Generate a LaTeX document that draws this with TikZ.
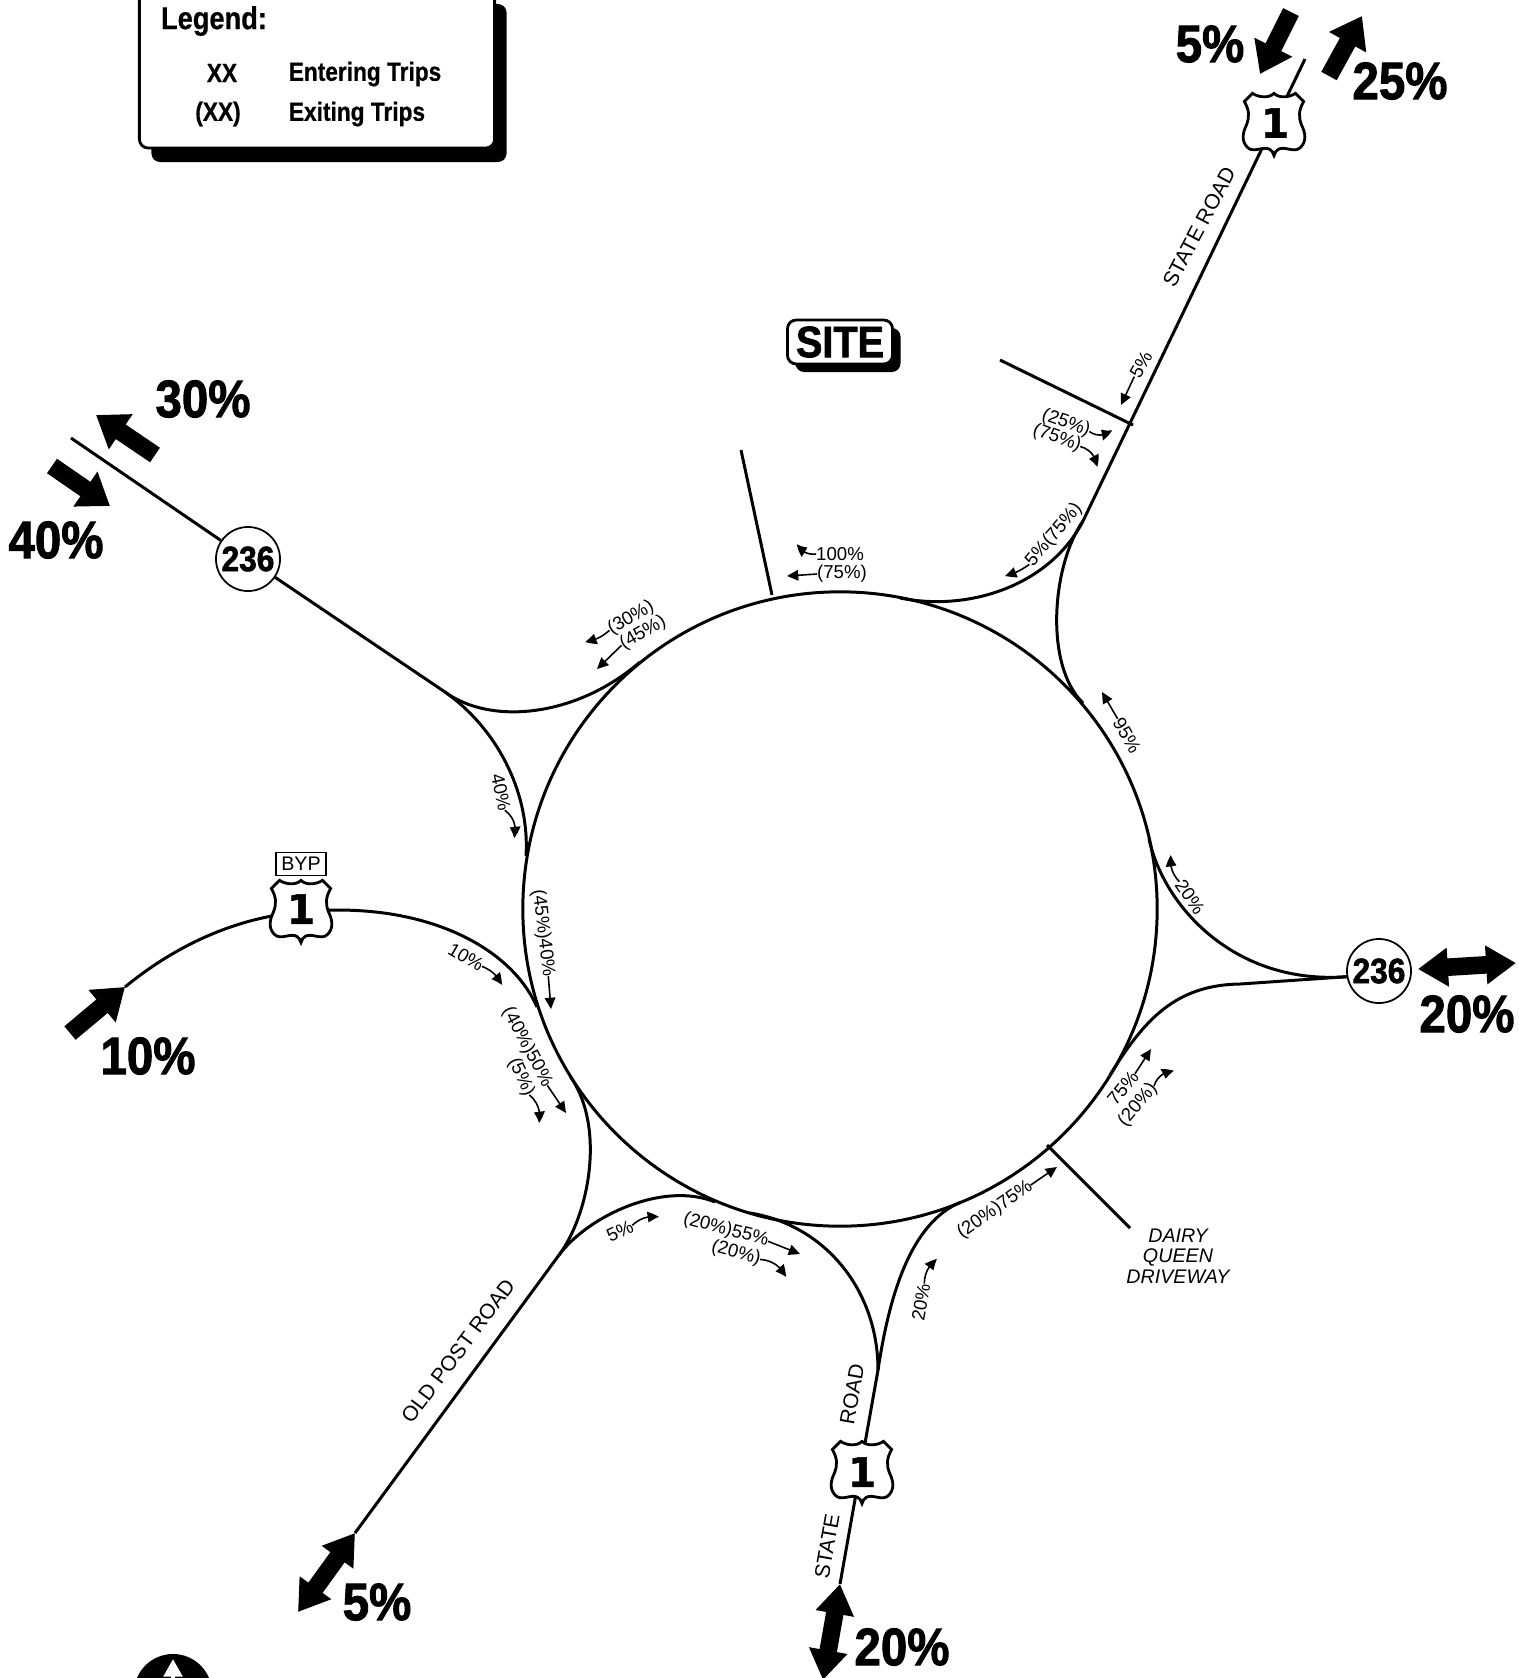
\documentclass[tikz,border=0pt]{standalone}
\usepackage{fontspec}
\setmainfont{Liberation Sans}
\newfontfamily\heavyfont[FakeStretch=0.9,BoldFeatures={FakeBold=1.7}]{Liberation Sans}
\newfontfamily\legendfont[FakeStretch=0.86,BoldFeatures={FakeBold=0.6}]{Liberation Sans}
\newfontfamily\shieldfont[BoldFeatures={FakeBold=1.2}]{DejaVu Sans}
\usetikzlibrary{arrows.meta,bending,shadows}
\tikzstyle{ring}=[circle,draw,line width=0.85pt,minimum size=6.34cm,inner sep=0pt,outer sep=0pt]
\tikzstyle{roadline}=[line width=0.85pt]
\tikzstyle{route}=[circle,draw,fill=white,line width=0.5pt,minimum size=0.64cm,inner sep=0pt,font=\heavyfont\bfseries\fontsize{10}{10}\selectfont]
\tikzstyle{shieldnum}=[inner sep=0pt,font=\shieldfont\bfseries\fontsize{11.5}{12}\selectfont]
\tikzstyle{bigpct}=[inner sep=0pt,font=\heavyfont\bfseries\fontsize{15}{15}\selectfont]
\tikzstyle{bigarrow}=[line width=5pt,-{Triangle[length=8.5pt,width=11.5pt]}]
\tikzstyle{bigboth}=[line width=5pt,{Triangle[length=8.5pt,width=10.5pt]}-{Triangle[length=8.5pt,width=10.5pt]}]
\tikzstyle{pct}=[inner sep=0pt,outer sep=0pt,font=\fontsize{5.3}{6}\selectfont]
\tikzstyle{pctarrow}=[line width=0.45pt,-{Triangle[length=3.2pt,width=3pt,bend]}]
\tikzstyle{roadname}=[inner sep=0pt,font=\fontsize{6}{7}\selectfont]
\tikzstyle{legendtxt}=[inner sep=0pt,font=\legendfont\bfseries\fontsize{7.5}{9}\selectfont]
\tikzstyle{shadowbox}=[draw,fill=white,rounded corners=2.5pt,line width=0.8pt,inner sep=0pt]
\tikzset{shield/.pic={
\draw[fill=white,line width=0.8pt,scale=1.02] (0,-31) .. controls (5,-26) and (15,-27) .. (21,-31) -- (29,-23) .. controls (24,-14) and (24,-8) .. (27,0) .. controls (31,8) and (32,16) .. (26,22) .. controls (20,28) and (10,20) .. (4,24) .. controls (2,25) and (1,27) .. (0,30) .. controls (-1,27) and (-2,25) .. (-4,24) .. controls (-10,20) and (-20,28) .. (-26,22) .. controls (-32,16) and (-31,8) .. (-27,0) .. controls (-24,-8) and (-24,-14) .. (-29,-23) -- (-21,-31) .. controls (-15,-27) and (-5,-26) .. (0,-31) -- cycle;
}}
\begin{document}
\begin{tikzpicture}[x=0.01cm,y=-0.01cm]
\clip (0,0) rectangle (1519,1678);
\node[ring] (c) at (840,909) {};
\node[route] (r1) at (248,559) {236};
\node[route] (r2) at (1379,971) {236};
\coordinate (s1) at (1274,125);
\coordinate (s2) at (862,1473);
\coordinate (s3) at (301,912);
\coordinate (x1) at (1305,59);
\coordinate (j1) at (1083,521);
\coordinate (d1) at (1133,425);
\coordinate (d2) at (1000,360);
\coordinate (d3) at (741,450);
\coordinate (d4) at (772,595);
\coordinate (d5) at (1047,1145);
\coordinate (d6) at (1130,1228);
\coordinate (m1) at (900,598);
\coordinate (m2) at (1083,703);
\coordinate (m3) at (1149,839);
\coordinate (m4) at (1110,1075);
\coordinate (m5) at (961,1202);
\coordinate (m6) at (750,1213);
\coordinate (m7) at (715,1202);
\coordinate (m8) at (570,1076);
\coordinate (m9) at (537,1007);
\coordinate (m10) at (526,856);
\coordinate (m11) at (640,662);
\coordinate (j2) at (1240,984);
\coordinate (j3) at (878,1370);
\coordinate (x3) at (840,1584);
\coordinate (j4) at (559,1255);
\coordinate (x4) at (355,1533);
\coordinate (x5) at (125,987);
\coordinate (j6) at (445,692);
\coordinate (x6) at (71,438);
% roads
\draw[roadline] (x1) -- (j1);
\draw[roadline] (j1) .. controls (1050,585) and (970,612) .. (m1);
\draw[roadline] (j1) .. controls (1052,565) and (1044,665) .. (m2);
\draw[roadline] (d1) -- (d2);
\draw[roadline] (d3) -- (d4);
\draw[roadline] (d5) -- (d6);
\draw[roadline] (m3) .. controls (1164,907) and (1235,985) .. (r2.190);
\draw[roadline] (m4) .. controls (1144,1020) and (1175,985) .. (j2) -- (r2.190);
\draw[roadline] (x3) -- (j3);
\draw[roadline] (j3) .. controls (889,1297) and (910,1223) .. (m5);
\draw[roadline] (j3) .. controls (878,1290) and (825,1225) .. (m6);
\draw[roadline] (x4) -- (j4);
\draw[roadline] (j4) .. controls (589,1215) and (664,1181) .. (m7);
\draw[roadline] (j4) .. controls (589,1215) and (606,1127) .. (m8);
\draw[roadline] (x5) .. controls (170,950) and (230,918) .. (s3);
\draw[roadline] (s3) .. controls (420,900) and (510,945) .. (m9);
\draw[roadline] (x6) -- (r1);
\draw[roadline] (r1) -- (j6);
\draw[roadline] (j6) .. controls (495,727) and (530,790) .. (m10);
\draw[roadline] (j6) .. controls (490,725) and (575,718) .. (m11);
% shields
\pic at (s1) {shield};
\pic at (s2) {shield};
\pic at (s3) {shield};
\node[shieldnum] (n1) at (1275,123) {1};
\node[shieldnum] (n2) at (862,1472) {1};
\node[shieldnum] (n3) at (301,909) {1};
\node[draw,line width=0.5pt,minimum width=0.5cm,minimum height=0.23cm,inner sep=0pt,font=\fontsize{5.6}{6}\selectfont] (byp) at (301,864) {BYP};
% big arrows
\coordinate (a1) at (1291,12);
\coordinate (a2) at (1260,74);
\coordinate (a3) at (1329,76);
\coordinate (a4) at (1362,16);
\coordinate (a5) at (155,455);
\coordinate (a6) at (96,415);
\coordinate (a7) at (52,466);
\coordinate (a8) at (110,506);
\coordinate (a9) at (1418,969);
\coordinate (a10) at (1516,963);
\coordinate (a11) at (840,1584);
\coordinate (a12) at (823,1680);
\coordinate (a13) at (355,1533);
\coordinate (a14) at (298,1612);
\coordinate (a15) at (70,1033);
\coordinate (a16) at (125,987);
\draw[bigarrow] (a1) -- (a2);
\draw[bigarrow] (a3) -- (a4);
\draw[bigarrow] (a5) -- (a6);
\draw[bigarrow] (a7) -- (a8);
\draw[bigboth] (a9) -- (a10);
\draw[bigboth] (a11) -- (a12);
\draw[bigboth] (a13) -- (a14);
\draw[bigarrow] (a15) -- (a16);
\node[bigpct] (p1) at (1210,44) {5\%};
\node[bigpct] (p2) at (1400,81) {25\%};
\node[bigpct] (p3) at (203,399) {30\%};
\node[bigpct] (p4) at (56,540) {40\%};
\node[bigpct] (p5) at (1467,1014) {20\%};
\node[bigpct] (p6) at (148,1056) {10\%};
\node[bigpct] (p7) at (377,1602) {5\%};
\node[bigpct] (p8) at (902,1647) {20\%};
% road names
\node[roadname,rotate=62] (t1) at (1199,227) {STATE ROAD};
\node[roadname,rotate=53] (t2) at (458,1351) {OLD POST ROAD};
\node[roadname,rotate=80] (t3) at (852,1394) {ROAD};
\node[roadname,rotate=80] (t4) at (827,1546) {STATE};
\node[roadname,align=center,font=\itshape\fontsize{5.6}{5.8}\selectfont] (t5) at (1178,1256) {DAIRY\\QUEEN\\DRIVEWAY};
% percentages
\node[pct,rotate=60] (l1) at (1141,365) {5\%};
\node[pct,rotate=-20] (l2) at (1066,423) {(25\%)};
\node[pct,rotate=-20] (l3) at (1057,438) {(75\%)};
\node[pct,rotate=50] (l4) at (1054,535) {5\%(75\%)};
\node[pct] (l5) at (840,554) {100\%};
\node[pct] (l6) at (842,574) {(75\%)};
\node[pct,rotate=30] (l7) at (631,618) {(30\%)};
\node[pct,rotate=30] (l8) at (643,633) {(45\%)};
\node[pct,rotate=-78] (l9) at (501,792) {40\%};
\node[pct,rotate=-83] (l10) at (543,933) {(45\%)40\%};
\node[pct,rotate=-30] (l11) at (466,957) {10\%};
\node[pct,rotate=-62] (l12) at (527,1047) {(40\%)50\%};
\node[pct,rotate=-65] (l13) at (521,1077) {(5\%)};
\node[pct,rotate=25] (l14) at (620,1231) {5\%};
\node[pct,rotate=-15] (l15) at (726,1230) {(20\%)55\%};
\node[pct,rotate=-15] (l16) at (736,1253) {(20\%)};
\node[pct,rotate=80] (l17) at (921,1302) {20\%};
\node[pct,rotate=35] (l18) at (995,1210) {(20\%)75\%};
\node[pct,rotate=50] (l19) at (1123,1088) {75\%};
\node[pct,rotate=50] (l20) at (1138,1105) {(20\%)};
\node[pct,rotate=-60] (l21) at (1127,735) {95\%};
\node[pct,rotate=-55] (l22) at (1190,897) {20\%};
\coordinate (k1) at (1121,405);
\coordinate (k2) at (1112,430);
\coordinate (k3) at (1097,467);
\coordinate (k4) at (1005,576);
\coordinate (k5) at (797,544);
\coordinate (k6) at (787,576);
\coordinate (k7) at (585,642);
\coordinate (k8) at (597,669);
\coordinate (k9) at (514,838);
\coordinate (k10) at (551,1009);
\coordinate (k11) at (502,985);
\coordinate (k12) at (566,1113);
\coordinate (k13) at (539,1123);
\coordinate (k14) at (659,1217);
\coordinate (k15) at (800,1254);
\coordinate (k16) at (786,1277);
\coordinate (k17) at (937,1259);
\coordinate (k18) at (1057,1167);
\coordinate (k19) at (1151,1049);
\coordinate (k20) at (1174,1071);
\coordinate (k21) at (1102,692);
\coordinate (k22) at (1171,855);
\draw[pctarrow] (l1.west) -- (k1);
\draw[pctarrow] (l2.east) to[bend right=40] (k2);
\draw[pctarrow] (l3.east) to[bend left=35] (k3);
\draw[pctarrow] (l4.west) to[bend left=10] (k4);
\draw[pctarrow] (l5.west) to[bend left=35] (k5);
\draw[pctarrow] (l6.west) -- (k6);
\draw[pctarrow] (l7.west) to[bend left=15] (k7);
\draw[pctarrow] (l8.west) -- (k8);
\draw[pctarrow] (l9.east) to[bend left=35] (k9);
\draw[pctarrow] (l10.east) -- (k10);
\draw[pctarrow] (l11.east) to[bend left=20] (k11);
\draw[pctarrow] (l12.east) -- (k12);
\draw[pctarrow] (l13.east) to[bend left=30] (k13);
\draw[pctarrow] (l14.east) to[bend left=25] (k14);
\draw[pctarrow] (l15.east) -- (k15);
\draw[pctarrow] (l16.east) to[bend left=30] (k16);
\draw[pctarrow] (l17.east) to[bend left=25] (k17);
\draw[pctarrow] (l18.east) -- (k18);
\draw[pctarrow] (l19.east) -- (k19);
\draw[pctarrow] (l20.east) to[bend left=35] (k20);
\draw[pctarrow] (l21.west) -- (k21);
\draw[pctarrow] (l22.west) to[bend left=25] (k22);
% site and legend
\node[shadowbox,minimum width=1.05cm,minimum height=0.44cm,general shadow={fill=black,shadow xshift=0.08cm,shadow yshift=-0.08cm},font=\heavyfont\bfseries\fontsize{12.5}{12.5}\selectfont] (site) at (840,342) {SITE};
\node[shadowbox,minimum width=3.55cm,minimum height=1.58cm,general shadow={fill=black,shadow xshift=0.12cm,shadow yshift=-0.14cm}] (legend) at (317,69) {};
\node[legendtxt,font=\legendfont\bfseries\fontsize{9}{9}\selectfont] (lg0) at (214,21) {Legend:};
\node[legendtxt] (lg1) at (222,73) {XX};
\node[legendtxt] (lg2) at (365,74) {Entering Trips};
\node[legendtxt] (lg3) at (218,114) {(XX)};
\node[legendtxt] (lg4) at (357,114) {Exiting Trips};
% north mark
\node[circle,fill=black,minimum size=0.78cm,inner sep=0pt] (north) at (173,1693) {};
\coordinate (nt) at (173,1659);
\draw[white,line width=1.2pt,-{Triangle[length=5pt,width=5.2pt]}] (north.center) -- (nt);
\end{tikzpicture}
\end{document}
